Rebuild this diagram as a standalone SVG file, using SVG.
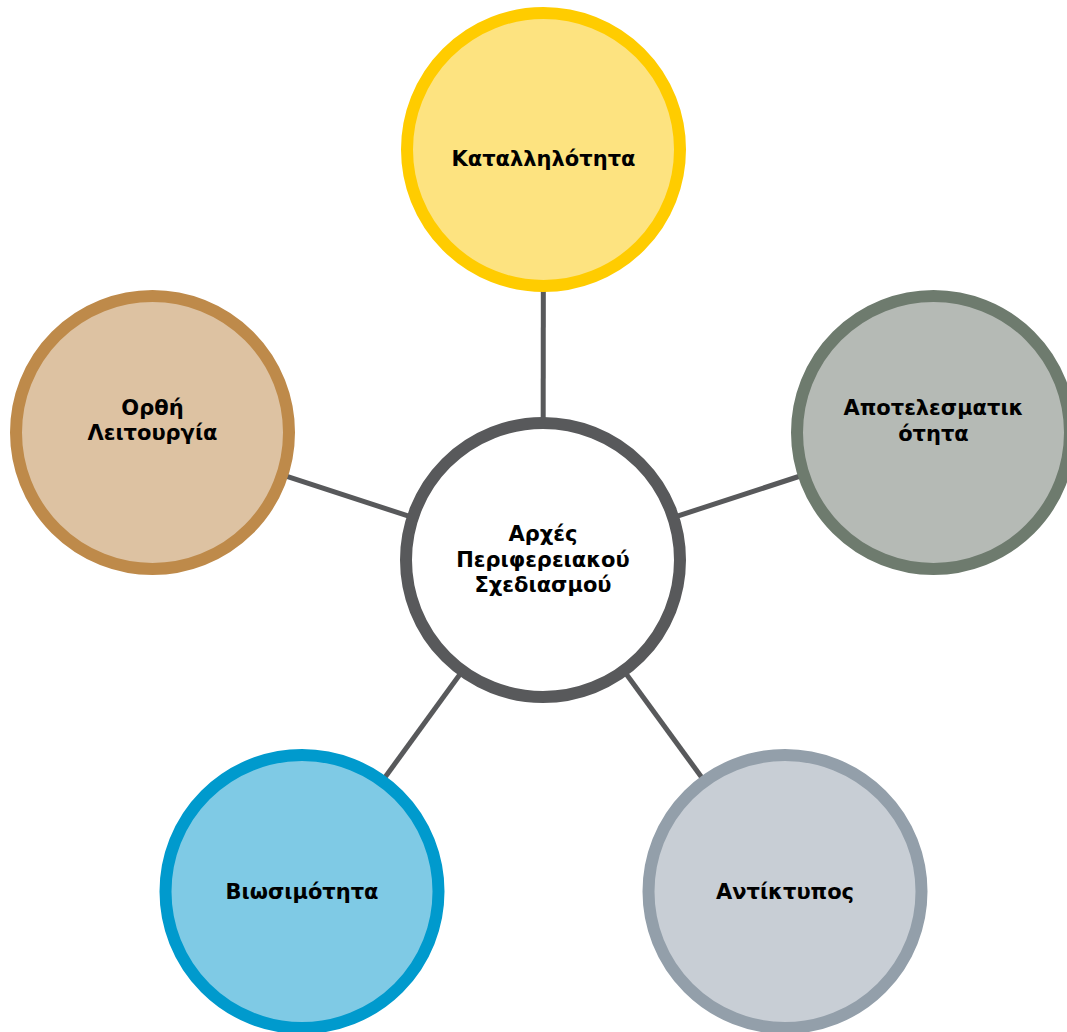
<svg xmlns="http://www.w3.org/2000/svg" width="1067" height="1032" viewBox="0 0 1067 1032">
<style>
.node circle{stroke-width:12}
.lbl{font-family:"DejaVu Sans","Liberation Sans",sans-serif;font-weight:bold;font-size:21px;fill:#000;text-anchor:middle}
.conn line{stroke:#58595B;stroke-width:5}
</style>
<rect width="1067" height="1032" fill="#fff"/>
<g id="connectors" class="conn">
<line x1="543" y1="560" x2="543.5" y2="149.5"/>
<line x1="543" y1="560" x2="933.5" y2="432.5"/>
<line x1="543" y1="560" x2="152.5" y2="432.5"/>
<line x1="543" y1="560" x2="302" y2="891.5"/>
<line x1="543" y1="560" x2="785" y2="891.5"/>
</g>
<g id="node-top" class="node">
<circle cx="543.5" cy="149.5" r="136.5" fill="#FDE380" stroke="#FFCC00"/>
<text class="lbl" x="543.5" y="166">Καταλληλότητα</text>
</g>
<g id="node-right" class="node">
<circle cx="933.5" cy="432.5" r="136.5" fill="#B5BAB5" stroke="#6E7B6E"/>
<text class="lbl" x="933.5" y="415">Αποτελεσματικ</text>
<text class="lbl" x="933.5" y="441">ότητα</text>
</g>
<g id="node-left" class="node">
<circle cx="152.5" cy="432.5" r="136.5" fill="#DDC2A2" stroke="#BE8A4A"/>
<text class="lbl" x="152.5" y="415">Ορθή</text>
<text class="lbl" x="152.5" y="440">Λειτουργία</text>
</g>
<g id="node-bottom-left" class="node">
<circle cx="302" cy="891.5" r="136.5" fill="#7FCAE5" stroke="#009ACD"/>
<text class="lbl" x="302" y="899">Βιωσιμότητα</text>
</g>
<g id="node-bottom-right" class="node">
<circle cx="785" cy="891.5" r="136.5" fill="#C8CED5" stroke="#939FAA"/>
<text class="lbl" x="785" y="899">Αντίκτυπος</text>
</g>
<g id="node-center" class="node">
<circle cx="543" cy="560" r="137" fill="#FFFFFF" stroke="#58595B"/>
<text class="lbl" x="543" y="541">Αρχές</text>
<text class="lbl" x="543" y="567">Περιφερειακού</text>
<text class="lbl" x="543" y="592">Σχεδιασμού</text>
</g>
</svg>
